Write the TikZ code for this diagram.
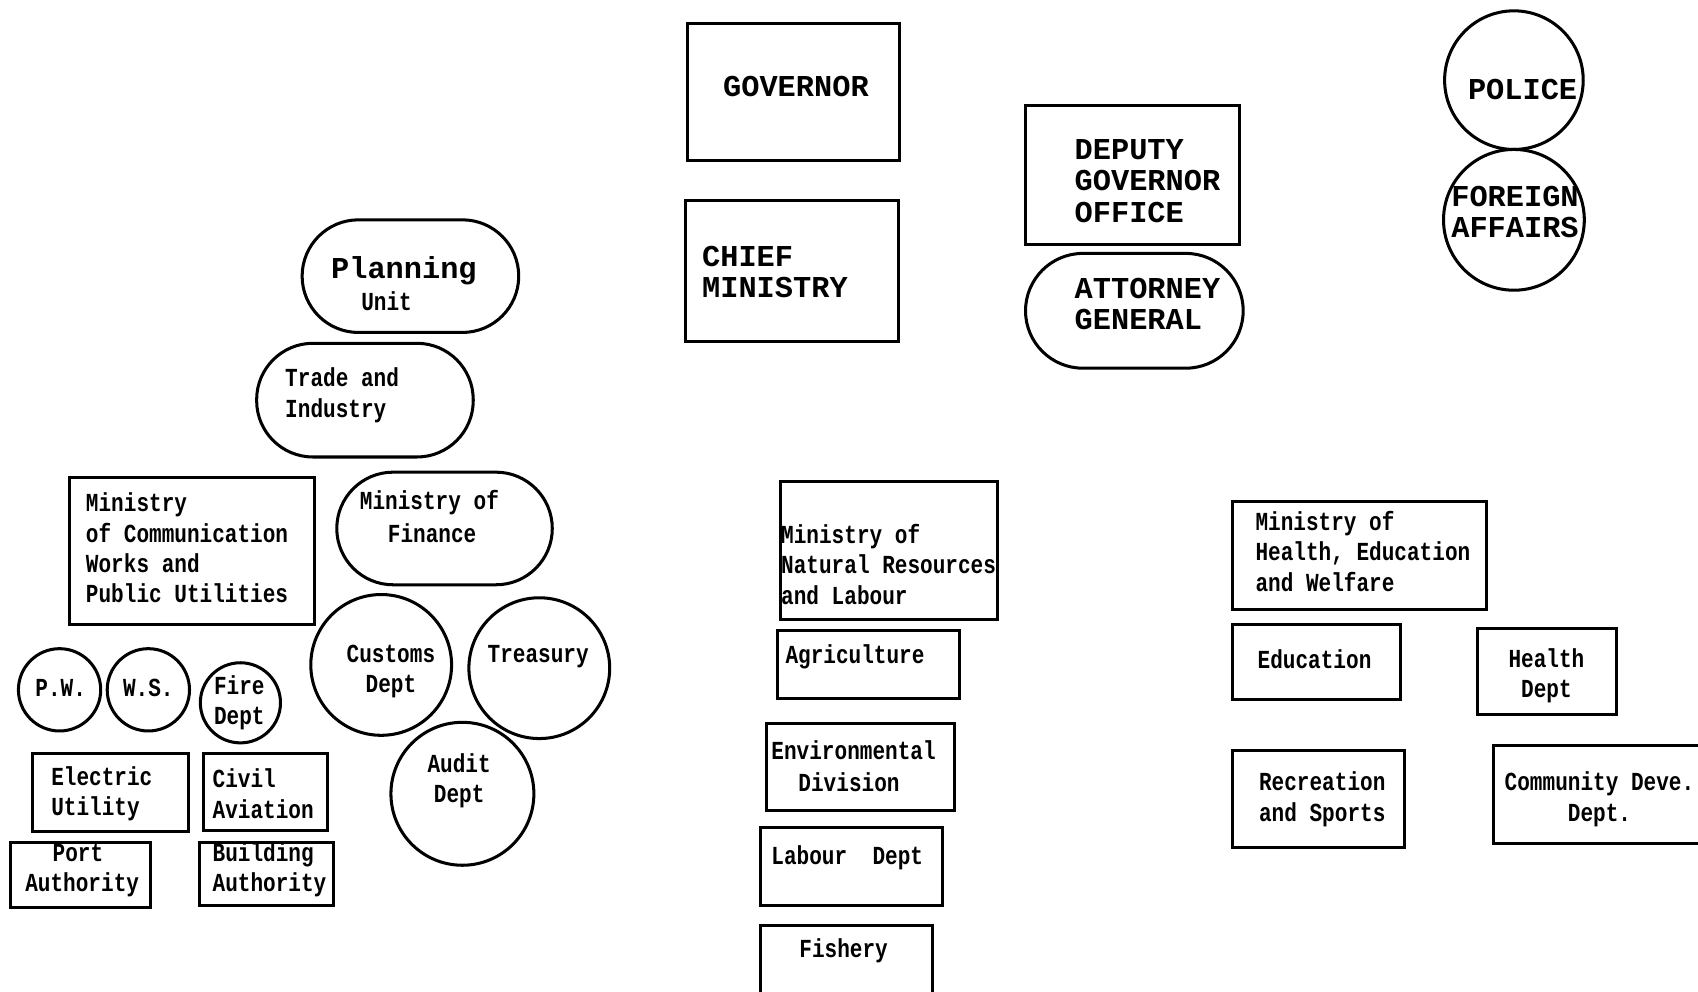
\documentclass[tikz,border=0pt]{standalone}
\usepackage{fontspec}
\setmainfont{Liberation Serif}
\newfontfamily\capsfont{Liberation Mono}
\newfontfamily\condfont[FakeStretch=0.81]{Liberation Mono}
\usetikzlibrary{fit}
\begin{document}
\begin{tikzpicture}[x=0.5pt,y=-0.5pt,
  shp/.style={draw=black,line width=1.4pt,inner sep=0pt},
  box/.style={shp,rectangle},
  pill/.style={shp,rectangle,rounded corners=#1},
  ring/.style={shp,circle,minimum size=#1},
  caps/.style={inner sep=0pt,font=\capsfont\bfseries\fontsize{14}{14.5}\selectfont,align=left},
  capsc/.style={caps,align=center},
  mixed/.style={inner sep=0pt,font=\condfont\bfseries\fontsize{12}{14}\selectfont,align=left},
  mixedc/.style={mixed,align=center}]
\useasboundingbox (0,0) rectangle (1568,916);

% --- top centre
\node[box,fit={(635,22) (831,148)}] (gov) {};
\node[capsc] (govT) at (735,80) {GOVERNOR};
\node[box,fit={(633,185) (830,315)}] (chief) {};
\node[caps,anchor=west] (chiefT) at (648,251) {CHIEF\\MINISTRY};
\node[box,fit={(947,97) (1145,226)}] (dep) {};
\node[caps,anchor=west] (depT) at (992,167) {DEPUTY\\GOVERNOR\\OFFICE};
\node[pill=26.5pt,fit={(947,234) (1148,340)}] (att) {};
\node[caps,anchor=west] (attT) at (992,281) {ATTORNEY\\GENERAL};

% --- top right
\node[ring=64pt] (police) at (1398,74) {};
\node[capsc] (policeT) at (1406,83) {POLICE};
\node[ring=65pt] (foreign) at (1398,203) {};
\node[capsc] (foreignT) at (1399,196) {FOREIGN\\AFFAIRS};

% --- left group
\node[pill=26pt,fit={(279,203) (479,307)}] (plan) {};
\node[capsc] (planT1) at (373,250) {Planning};
\node[mixedc] (planT2) at (357,278) {Unit};
\node[pill=26pt,fit={(237,317) (437,422)}] (trade) {};
\node[mixed,anchor=west] (tradeT) at (263,365) {Trade and\\Industry};
\node[box,fit={(64,441) (290,577)}] (mcw) {};
\node[mixed,anchor=west] (mcwT) at (79,506) {Ministry\\of Communication\\Works and\\Public Utilities};
\node[pill=26pt,fit={(311,436) (510,540)}] (mof) {};
\node[mixed,anchor=west] (mofT1) at (332,464) {Ministry of};
\node[mixedc] (mofT2) at (399,492) {Finance};
\node[ring=65pt] (cust) at (352,614) {};
\node[mixedc] (custT) at (361,620) {Customs\\Dept};
\node[ring=65pt] (treas) at (498,617) {};
\node[mixedc] (treasT) at (497,606) {Treasury};
\node[ring=66pt] (audit) at (427,733) {};
\node[mixedc] (auditT) at (424,721) {Audit\\Dept};
\node[ring=38pt] (pw) at (55,637) {};
\node[mixedc] (pwT) at (56,635) {P.W.};
\node[ring=38pt] (ws) at (137,637) {};
\node[mixedc] (wsT) at (137,635) {W.S.};
\node[ring=37pt] (fire) at (222,649) {};
\node[mixedc] (fireT) at (221,649) {Fire\\Dept};
\node[box,fit={(30,696) (174,768)}] (elec) {};
\node[mixed,anchor=west] (elecT) at (47,733) {Electric\\Utility};
\node[box,fit={(188,696) (302,767)}] (civil) {};
\node[mixed,anchor=west] (civilT) at (196,733) {Civil\\Aviation};
\node[box,fit={(10,778) (139,838)}] (port) {};
\node[mixedc] (portT1) at (72,788) {Port};
\node[mixed,anchor=west] (portT2) at (23,817) {Authority};
\node[box,fit={(184,778) (308,836)}] (build) {};
\node[mixed,anchor=west] (buildT) at (196,803) {Building\\Authority};

% --- centre group
\node[box,fit={(721,445) (921,572)}] (mnr) {};
\node[mixed,anchor=west] (mnrT) at (721,521) {Ministry of\\Natural Resources\\and Labour};
\node[box,fit={(718,582) (886,645)}] (agri) {};
\node[mixed,anchor=west] (agriT) at (725,607) {Agriculture};
\node[box,fit={(708,668) (881,748)}] (env) {};
\node[mixed,anchor=west] (envT1) at (712,693) {Environmental};
\node[mixedc] (envT2) at (784,722) {Division};
\node[box,fit={(702,764) (870,836)}] (lab) {};
\node[mixed,anchor=west] (labT) at (712,792) {Labour\ \ Dept};
\node[box,fit={(702,855) (861,918)}] (fish) {};
\node[mixedc] (fishT) at (779,878) {Fishery};

% --- right group
\node[box,fit={(1138,463) (1373,563)}] (mhe) {};
\node[mixed,anchor=west] (mheT) at (1159,509) {Ministry of\\Health, Education\\and Welfare};
\node[box,fit={(1138,577) (1293,646)}] (edu) {};
\node[mixed,anchor=west] (eduT) at (1161,609) {Education};
\node[box,fit={(1364,580) (1493,660)}] (health) {};
\node[mixedc] (healthT) at (1428,624) {Health\\Dept};
\node[box,fit={(1138,693) (1297,783)}] (rec) {};
\node[mixedc] (recT) at (1221,738) {Recreation\\and Sports};
\node[box,fit={(1379,688) (1575,779)}] (comm) {};
\node[mixedc] (commT) at (1477,738) {Community Deve.\\Dept.};
\end{tikzpicture}
\end{document}
